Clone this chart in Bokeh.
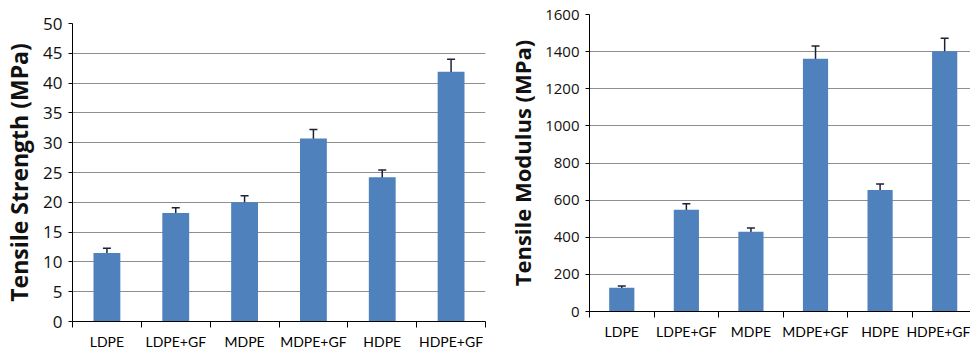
from bokeh.plotting import figure
from bokeh.layouts import row, column
from bokeh.models import Range1d, FixedTicker, Whisker, ColumnDataSource, TeeHead
from bokeh.embed import file_html
from bokeh.resources import INLINE

# Materials tested
categories = ["LDPE", "LDPE+GF", "MDPE", "MDPE+GF", "HDPE", "HDPE+GF"]

# Tensile strength (MPa) with standard deviation
strength = [11.5, 18.2, 20.0, 30.7, 24.2, 41.9]
strength_err = [0.8, 0.9, 1.1, 1.5, 1.2, 2.1]

# Tensile modulus (MPa) with standard deviation
modulus = [128, 548, 430, 1362, 655, 1402]
modulus_err = [10, 32, 20, 68, 32, 70]

strength_ticks = [0, 5, 10, 15, 20, 25, 30, 35, 40, 45, 50]
modulus_ticks = [0, 200, 400, 600, 800, 1000, 1200, 1400, 1600]

BAR = "#4F81BD"
ERR = "#1c2333"
GRID = "#8f8f8f"
FONT = "Open Sans"
CAT_FONT = "Lato"


def make_panel(values, errors, yticks, ymax, xend, title,
               frame_w, frame_h, left, top, bottom, right,
               tick_size, cat_size, title_size):
    centers = [i + 0.5 for i in range(len(categories))]
    src = ColumnDataSource(dict(
        x=centers, top=values,
        upper=[v + e for v, e in zip(values, errors)],
        lower=[v - e for v, e in zip(values, errors)],
    ))
    p = figure(width=left + frame_w + right, height=top + frame_h + bottom,
               x_range=Range1d(0, xend), y_range=Range1d(0, ymax),
               output_backend="svg", toolbar_location=None,
               min_border_left=left, min_border_top=top,
               min_border_bottom=bottom, min_border_right=right)
    p.outline_line_color = None
    p.background_fill_color = "white"
    p.border_fill_color = "white"

    p.vbar(x="x", top="top", bottom=0, width=0.39, source=src,
           fill_color=BAR, line_color=None)
    p.add_layout(Whisker(source=src, base="x", upper="upper", lower="lower",
                         line_color=ERR, line_width=1.5,
                         upper_head=TeeHead(size=8, line_color=ERR, line_width=1.5),
                         lower_head=TeeHead(size=8, line_color=ERR, line_width=1.5)))

    # y axis
    p.yaxis.ticker = FixedTicker(ticks=yticks)
    p.yaxis.axis_line_color = "black"
    p.yaxis.major_tick_in = 0
    p.yaxis.major_tick_out = 4
    p.yaxis.minor_tick_line_color = None
    p.yaxis.major_label_text_font = FONT
    p.yaxis.major_label_text_font_size = tick_size
    p.yaxis.major_label_text_color = "#111111"
    p.yaxis.major_label_standoff = 6
    p.yaxis.axis_label = title
    p.yaxis.axis_label_text_font = FONT
    p.yaxis.axis_label_text_font_style = "bold"
    p.yaxis.axis_label_text_font_size = title_size
    p.yaxis.axis_label_text_color = "#111111"
    p.yaxis.axis_label_standoff = 5

    # x axis: labels at category centres, tick marks between categories
    p.xaxis.ticker = FixedTicker(ticks=centers,
                                 minor_ticks=list(range(len(categories) + 1)))
    p.xaxis.major_label_overrides = {c: name for c, name in zip(centers, categories)}
    p.xaxis.axis_line_color = "black"
    p.xaxis.major_tick_line_color = None
    p.xaxis.major_tick_in = 0
    p.xaxis.major_tick_out = 0
    p.xaxis.minor_tick_in = 0
    p.xaxis.minor_tick_out = 6
    p.xaxis.minor_tick_line_color = "black"
    p.xaxis.major_label_text_font = CAT_FONT
    p.xaxis.major_label_text_font_size = cat_size
    p.xaxis.major_label_text_color = "#000000"
    p.xaxis.major_label_standoff = 5

    p.xgrid.grid_line_color = None
    p.ygrid.ticker = FixedTicker(ticks=yticks)
    p.ygrid.grid_line_color = GRID
    p.ygrid.grid_line_width = 1
    return p


left = make_panel(strength, strength_err, strength_ticks, 50, 6,
                  "Tensile Strength (MPa)",
                  frame_w=413, frame_h=298, left=72, top=23, bottom=31, right=15,
                  tick_size="17px", cat_size="14px", title_size="23px")

right = make_panel(modulus, modulus_err, modulus_ticks, 1600, 5.9,
                   "Tensile Modulus (MPa)",
                   frame_w=381, frame_h=297, left=89, top=14, bottom=41, right=0,
                   tick_size="15px", cat_size="14px", title_size="22px")

layout = row(column(left), column(right))

open("out.html", "w").write(file_html(layout, INLINE))
